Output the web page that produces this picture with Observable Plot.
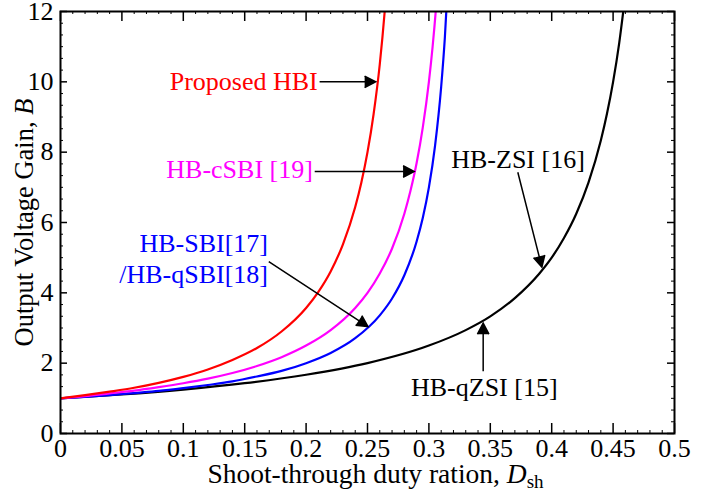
<!DOCTYPE html>
<html><head><meta charset="utf-8">
<script src="https://cdn.jsdelivr.net/npm/d3@7"></script>
<script src="https://cdn.jsdelivr.net/npm/@observablehq/plot@0.6"></script>
<style>body{margin:0;background:#fff}#chart svg{display:block}</style>
</head><body><div id="chart"></div>
<script>
// ---- data ----
const dRed = [0,0.02,0.04,0.06,0.08,0.10,0.12,0.14,0.16,0.18,0.20,0.21,0.22,0.23,0.24,0.245,0.25,0.255,0.26,0.264,0.266];
const bRed = [1,1.09,1.19,1.30,1.44,1.61,1.82,2.09,2.43,2.90,3.57,4.03,4.61,5.38,6.44,7.14,8.0,9.09,10.5,12.0,12.9];
const dMag = [0,0.02,0.04,0.06,0.08,0.10,0.12,0.14,0.16,0.18,0.20,0.22,0.24,0.25,0.26,0.27,0.28,0.285,0.29,0.295,0.30,0.303,0.306,0.308];
const bMag = [1,1.06,1.14,1.22,1.32,1.43,1.56,1.72,1.92,2.17,2.5,2.94,3.57,4.0,4.55,5.26,6.25,6.90,7.69,8.70,10.0,10.99,12.2,13.2];
const dBlue = [0,0.02,0.04,0.06,0.08,0.10,0.12,0.14,0.16,0.18,0.20,0.22,0.24,0.26,0.27,0.28,0.29,0.295,0.30,0.305,0.31,0.313,0.316];
const bBlue = [1,1.04,1.09,1.15,1.21,1.29,1.38,1.48,1.62,1.78,2.0,2.29,2.71,3.36,3.84,4.5,5.46,6.13,7.0,8.18,9.86,11.26,13.17];
const dBlack = [0,0.05,0.10,0.15,0.20,0.25,0.30,0.33,0.35,0.37,0.39,0.40,0.41,0.42,0.43,0.44,0.445,0.45,0.455,0.46];
const bBlack = [1,1.11,1.25,1.43,1.67,2.0,2.5,2.94,3.33,3.85,4.55,5.0,5.56,6.25,7.14,8.33,9.09,10.0,11.11,12.5];

const xMajor = [0,0.05,0.1,0.15,0.2,0.25,0.3,0.35,0.4,0.45,0.5];
const xTickLabels = ["0","0.05","0.1","0.15","0.2","0.25","0.3","0.35","0.4","0.45","0.5"];
const yMajor = [0,2,4,6,8,10,12];
const yTickLabels = ["0","2","4","6","8","10","12"];
const xMinor = d3.range(0, 51).map(i => i / 100).filter(v => Math.round(v * 100) % 5 !== 0);
const yMinor = d3.range(0, 37).map(i => i / 3).filter(v => Math.abs(v / 2 - Math.round(v / 2)) > 1e-6);

// annotations
const annText = ["Proposed HBI", "HB-cSBI [19]", "HB-SBI[17]", "/HB-qSBI[18]", "HB-ZSI [16]", "HB-qZSI [15]"];
const annD = [0.2095, 0.2055, 0.1690, 0.1690, 0.3726, 0.3451];
const annB = [10.0, 7.51, 5.39, 4.52, 7.79, 1.29];
const annAnchor = ["end", "end", "end", "end", "middle", "middle"];
const annColor = ["#ff0000", "#ff00ff", "#0000ff", "#0000ff", "#000000", "#000000"];

const arrD1 = [0.2110, 0.2070, 0.1696, 0.3724, 0.3442];
const arrB1 = [10.0, 7.45, 4.89, 7.43, 1.77];
const arrD2 = [0.2567, 0.2880, 0.2504, 0.3920, 0.3442];
const arrB2 = [10.0, 7.45, 3.04, 4.73, 3.14];

// ---- build tables ----
const series = [
  {d: dBlack, b: bBlack, color: "#000000"},
  {d: dBlue, b: bBlue, color: "#0000ff"},
  {d: dMag, b: bMag, color: "#ff00ff"},
  {d: dRed, b: bRed, color: "#ff0000"}
];
const ann = annText.map((t, i) => ({t, D: annD[i], B: annB[i], a: annAnchor[i], c: annColor[i]}));
const arrows = arrD1.map((d, i) => ({x1: d, y1: arrB1[i], x2: arrD2[i], y2: arrB2[i]}));
const xLab = new Map(xMajor.map((v, i) => [v, xTickLabels[i]]));
const yLab = new Map(yMajor.map((v, i) => [v, yTickLabels[i]]));

const W = 708, H = 493, mL = 60, mR = 34, mT = 11, mB = 60;
const fH = H - mT - mB, fW = W - mL - mR;
const XT = "Shoot-through duty ration, Dsh";
const YT = "Output Voltage Gain, B";

const marks = [
  // inward ticks
  Plot.ruleX(xMajor, {x: d => d, insetTop: fH - 10, strokeWidth: 1.5}),
  Plot.ruleX(xMajor, {x: d => d, insetBottom: fH - 10, strokeWidth: 1.5}),
  Plot.ruleX(xMinor, {x: d => d, insetTop: fH - 3, strokeWidth: 1}),
  Plot.ruleX(xMinor, {x: d => d, insetBottom: fH - 3, strokeWidth: 1}),
  Plot.ruleY(yMajor, {y: d => d, insetRight: fW - 7, strokeWidth: 1.5}),
  Plot.ruleY(yMajor, {y: d => d, insetLeft: fW - 7, strokeWidth: 1.5}),
  Plot.ruleY(yMinor, {y: d => d, insetRight: fW - 3, strokeWidth: 1}),
  Plot.ruleY(yMinor, {y: d => d, insetLeft: fW - 3, strokeWidth: 1}),
  Plot.axisX({ticks: xMajor, tickSize: 0, tickPadding: 5, label: null, fontSize: 26, tickFormat: d => xLab.get(d)}),
  Plot.axisY({ticks: yMajor, tickSize: 0, tickPadding: 7, label: null, fontSize: 26, tickFormat: d => yLab.get(d)}),
  ...series.map(s => Plot.line(s.d.map((d, i) => ({D: d, B: s.b[i]})), {x: "D", y: "B", stroke: s.color, strokeWidth: 2.2, curve: "monotone-x", clip: true})),
  Plot.frame({strokeWidth: 2}),
  Plot.arrow(arrows, {x1: "x1", y1: "y1", x2: "x2", y2: "y2", stroke: "black", fill: "black", strokeWidth: 1.5, headLength: 12.5, headAngle: 55, strokeLinejoin: "miter", strokeMiterlimit: 10, strokeLinecap: "butt"}),
  Plot.text(ann.filter(d => d.a === "end"), {x: "D", y: "B", text: "t", textAnchor: "end", fill: "c", fontSize: 26, lineAnchor: "middle"}),
  Plot.text(ann.filter(d => d.a === "middle"), {x: "D", y: "B", text: "t", textAnchor: "middle", fill: "c", fontSize: 26, lineAnchor: "middle"}),
  Plot.text([XT], {frameAnchor: "bottom", text: d => d, dy: 41, dx: 8, fontSize: 27.5, textAnchor: "middle", lineAnchor: "middle"}),
  Plot.text([YT], {frameAnchor: "left", rotate: -90, text: d => d, dx: -36, fontSize: 26.5, textAnchor: "middle", lineAnchor: "middle"})
];

const chart = Plot.plot({
  width: W, height: H,
  marginLeft: mL, marginRight: mR, marginTop: mT, marginBottom: mB,
  style: {fontFamily: "'Liberation Serif', 'Times New Roman', serif", fontSize: "26px", background: "#fff", color: "#000"},
  x: {domain: [0, 0.5]},
  y: {domain: [0, 12]},
  marks
});
document.getElementById("chart").append(chart);

// rich text for axis titles
d3.select(chart).selectAll("text").each(function () {
  const t = d3.select(this);
  const s = this.textContent;
  if (s === XT) {
    t.text(null);
    t.append("tspan").text("Shoot-through duty ration, ");
    t.append("tspan").attr("font-style", "italic").text("D");
    t.append("tspan").attr("font-size", "19px").attr("dy", "5").text("sh");
  } else if (s === YT) {
    t.text(null);
    t.append("tspan").text("Output Voltage Gain, ");
    t.append("tspan").attr("font-style", "italic").text("B");
  }
});
</script></body></html>
